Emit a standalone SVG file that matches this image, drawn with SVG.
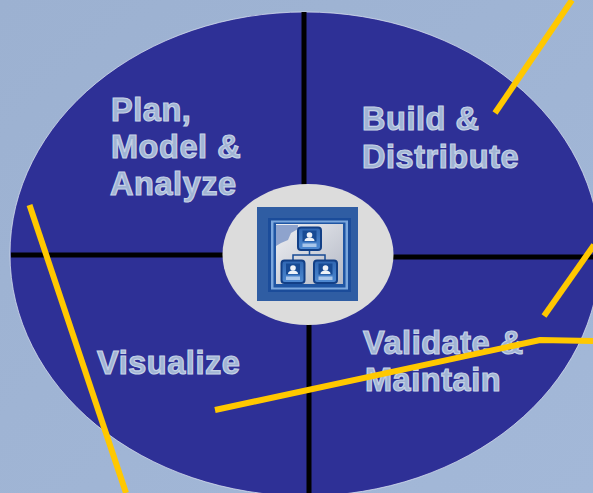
<svg xmlns="http://www.w3.org/2000/svg" width="593" height="493" viewBox="0 0 593 493">
<style>
.label{font-family:"Liberation Sans",Arial,sans-serif;font-weight:700;font-size:32.5px;letter-spacing:.55px;fill:#a0b4d4;stroke:#c6d2e6;stroke-width:1.2px}
.div{stroke:#000;stroke-width:5;fill:none}
.lead{stroke:#ffc800;stroke-width:6;fill:none}
.card{fill:url(#cardFill);stroke:#123f86;stroke-width:2}
.bar{fill:#a9c6ea}
.head{fill:#eef2f8}
</style>
<defs>
<linearGradient id="bg" x1="0" y1="0" x2="1" y2="1"><stop offset="0" stop-color="#9cb1d1"/><stop offset="1" stop-color="#a3b8d8"/></linearGradient>
<linearGradient id="panel" x1="0" y1="0" x2="1" y2="1"><stop offset="0" stop-color="#eeeff2"/><stop offset="1" stop-color="#b4b9c6"/></linearGradient>
<linearGradient id="cardFill" x1="0" y1="0" x2="0" y2="1"><stop offset="0" stop-color="#2f66b2"/><stop offset="1" stop-color="#4f8ad2"/></linearGradient>
<g id="person">
<rect class="card" x="-11.5" y="-11" width="23" height="22.5" rx="3"/>
<rect x="-7" y="-8" width="14" height="11" fill="#174a94"/>
<circle class="head" cx="0" cy="-3.5" r="2.8"/>
<path class="head" d="M-5 2.5Q-5-1 0-1T5 2.5Z"/>
<rect class="bar" x="-7" y="5" width="14" height="3.5"/>
</g>
</defs>
<rect width="593" height="493" fill="url(#bg)"/>
<g id="disc"><ellipse cx="305" cy="254" rx="295" ry="242" fill="#2e3096" stroke="#dfe5f2" stroke-opacity=".7" stroke-width="1"/></g>
<g id="dividers">
<path class="div" d="M304 12V186"/>
<path class="div" d="M309 323V493"/>
<path class="div" d="M11 255H226"/>
<path class="div" d="M391 257H598"/>
</g>
<g id="hub">
<ellipse cx="308" cy="254.500" rx="85.500" ry="70.500" fill="#dcdcdc"/>
<rect x="257" y="207" width="101" height="94" fill="#2f5da3"/>
<rect x="268" y="218" width="83" height="74" fill="#1b4c9a"/>
<rect x="271" y="220.500" width="77" height="69" fill="#7ba7dd"/>
<rect x="273.500" y="222.500" width="72" height="65" fill="#1f55a3"/>
<rect x="276" y="224" width="67" height="60" fill="url(#panel)"/>
<path d="M276 225H298V229L291 233L288 240L281 243L276 246Z" fill="#8ea3cd"/>
<path d="M309.500 250V255M293 260V255H325V260" fill="none" stroke="#174a94" stroke-width="1.500"/>
<use href="#person" x="309.500" y="238.500"/>
<use href="#person" x="293" y="271.500"/>
<use href="#person" x="325.500" y="271.500"/>
</g>
<g id="plan"><text class="label" x="111" y="121">Plan,</text><text class="label" x="111" y="158">Model &amp;</text><text class="label" x="110" y="195">Analyze</text></g>
<g id="build"><text class="label" x="362" y="130">Build &amp;</text><text class="label" x="362" y="168">Distribute</text></g>
<g id="visualize"><text class="label" x="97" y="374">Visualize</text></g>
<g id="validate"><text class="label" x="363" y="354">Validate &amp;</text><text class="label" x="365" y="391">Maintain</text></g>
<g id="connectors">
<path class="lead" d="M29.500 205L126 493"/>
<path class="lead" d="M495 113L572 0"/>
<path class="lead" d="M544 316L594 245"/>
<path class="lead" d="M215 410L540 340L593 341"/>
</g>
</svg>
